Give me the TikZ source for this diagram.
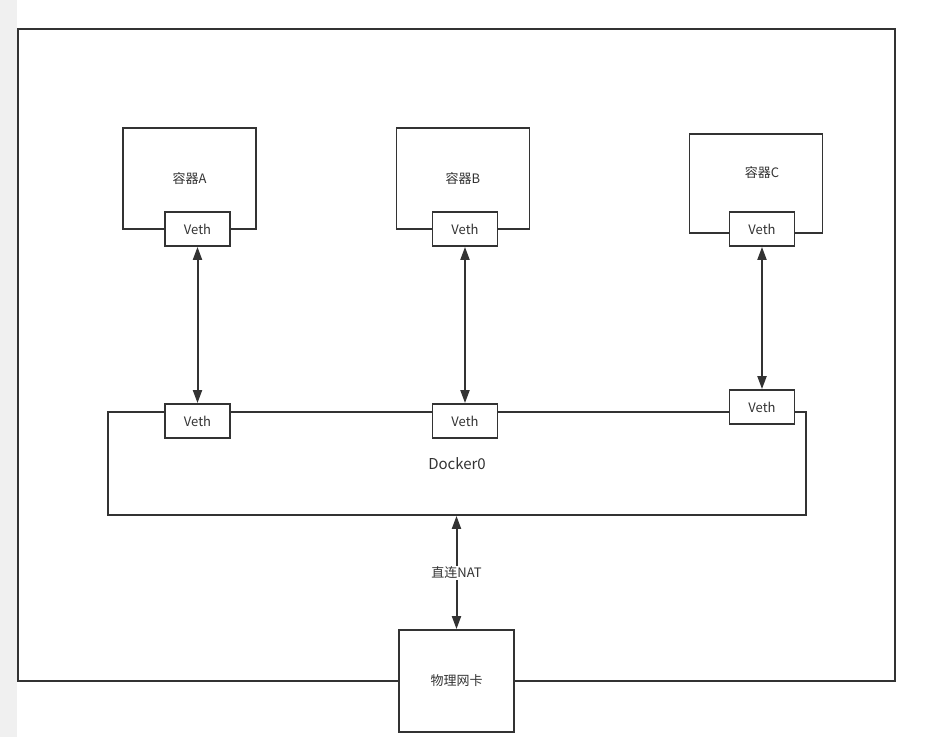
\documentclass[tikz,border=0pt]{standalone}
\usepackage{fontspec}
\setmainfont{Noto Sans CJK SC}
\usepackage{xcolor}
\usepackage{tikz}
\usetikzlibrary{arrows.meta,positioning}
\definecolor{DLine}{HTML}{333333}
\definecolor{DText}{HTML}{333333}
\definecolor{DSide}{HTML}{F0F0F0}

\begin{document}
\begin{tikzpicture}[
  x=1pt,y=-1pt,
  every node/.style={font=\fontsize{13}{15}\selectfont,text=DText},
  frame/.style={draw=DLine,line width=1.8pt,inner sep=0pt},
  ctr/.style={frame,fill=white,minimum width=133,minimum height=101},
  veth/.style={frame,fill=white,minimum width=65,minimum height=34},
  a/.style={{Triangle[length=13pt,width=9pt]}-{Triangle[length=13pt,width=9pt]},
    line width=2pt,color=DLine}
]
  \useasboundingbox (0,0) rectangle (946,737);
  \fill[DSide] (0,0) rectangle (17,737);

  % host and bridge
  \node[frame,minimum width=877,minimum height=652] (host) at (456.5,355) {};
  \node[frame,fill=white,minimum width=698,minimum height=103,
    font=\fontsize{15}{17}\selectfont] (bridge) at (457,463.5) {Docker0};

  % containers
  \node[ctr] (ca) at (189.5,178.5) {容器A};
  \node[ctr] (cb) at (463,178.5) {容器B};
  \node[ctr,minimum height=99] (cc) at (756,183.5) {};
  \node (lc) at (762,173) {容器C};

  \node[veth] (va) at (197.5,229) {Veth};
  \node[veth] (vb) at (465,229) {Veth};
  \node[veth] (vc) at (762,229) {Veth};

  \node[veth] (da) at (197.5,421) {Veth};
  \node[veth] (db) at (465,421) {Veth};
  \node[veth] (dc) at (762,407) {Veth};

  % physical nic
  \node[frame,fill=white,minimum width=115,minimum height=102] (nic) at (456.5,681) {物理网卡};

  \foreach \u/\v in {va/da,vb/db,vc/dc}
    {\draw[a] (\u) -- (\v);}
  \draw[a] (nic.north |- bridge.south) -- node[fill=white,inner sep=1pt] (nat) {直连NAT} (nic.north);
\end{tikzpicture}
\end{document}
